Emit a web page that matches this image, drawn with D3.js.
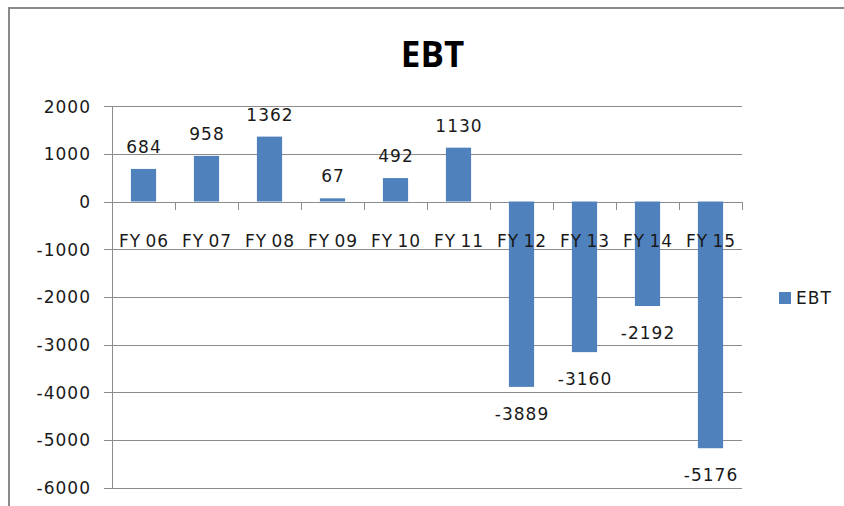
<!DOCTYPE html>
<html>
<head>
<meta charset="utf-8">
<script src="https://cdn.jsdelivr.net/npm/d3@7"></script>
<style>
  html, body { margin: 0; padding: 0; background: #fff; }
  svg { display: block; }
  .lbl { font-family: "DejaVu Sans", sans-serif; font-size: 17px; letter-spacing: 1px; fill: #1a1a1a; }
  .cat { word-spacing: -2px; }
</style>
</head>
<body>
<svg id="chart" width="844" height="506"></svg>
<script>
// EBT by fiscal year
const categories = ["FY 06", "FY 07", "FY 08", "FY 09", "FY 10", "FY 11", "FY 12", "FY 13", "FY 14", "FY 15"];
const ebtValues = [684, 958, 1362, 67, 492, 1130, -3889, -3160, -2192, -5176];
const yTicks = [2000, 1000, 0, -1000, -2000, -3000, -4000, -5000, -6000];
const seriesName = "EBT";
const chartTitle = "EBT";

const svg = d3.select("#chart");
const W = 844, H = 506;
const plot = { left: 112, right: 742, top: 106.2, bottom: 487.5 };
const gridColor = "#8c8c8c";
const barColor = "#4f81bd";

// Chart frame (left and top edges visible)
svg.append("path")
  .attr("d", `M9,${H} L9,8 L${W},8`)
  .attr("fill", "none")
  .attr("stroke", "#8a8a8a")
  .attr("stroke-width", 2);

// Title
svg.append("text")
  .attr("x", 432.5).attr("y", 66.5)
  .attr("text-anchor", "middle")
  .style("font-family", "'Open Sans', sans-serif")
  .style("font-weight", 700)
  .style("font-size", "35px")
  .style("fill", "#000")
  .text(chartTitle);

const x = d3.scaleBand().domain(categories).range([plot.left, plot.right]).padding(0);
const y = d3.scaleLinear().domain([-6000, 2000]).range([plot.bottom, plot.top]);
const step = x.step();
const barW = step * 0.4;

// Horizontal gridlines + y-axis via d3.axisLeft (plain hyphen for negatives)
const yAxis = d3.axisLeft(y).tickValues(yTicks).tickSize(8).tickSizeOuter(0).tickFormat(d => String(d));
const gy = svg.append("g").attr("transform", `translate(${plot.left},0)`).call(yAxis);
gy.select(".domain").attr("stroke", gridColor).attr("stroke-width", 1).attr("shape-rendering", "crispEdges");
gy.selectAll(".tick line").attr("stroke", gridColor).attr("shape-rendering", "crispEdges");
gy.selectAll(".tick text").attr("class", "lbl").attr("x", -21).attr("dy", "0.36em");
gy.selectAll(".tick").append("line")
  .attr("x1", 0).attr("x2", plot.right - plot.left)
  .attr("stroke", gridColor).attr("shape-rendering", "crispEdges");

// Category ticks on the zero line
const bounds = categories.map(c => x(c)).concat([plot.right]);
svg.append("g").selectAll("line").data(bounds).join("line")
  .attr("x1", d => d).attr("x2", d => d)
  .attr("y1", y(0)).attr("y2", y(0) + 8)
  .attr("stroke", gridColor).attr("shape-rendering", "crispEdges");

// Bars
svg.append("g").selectAll("rect").data(ebtValues).join("rect")
  .attr("x", (d, i) => x(categories[i]) + (step - barW) / 2)
  .attr("width", barW)
  .attr("y", d => y(Math.max(0, d)))
  .attr("height", d => Math.abs(y(d) - y(0)))
  .attr("fill", barColor);

// Category labels
svg.append("g").selectAll("text").data(categories).join("text")
  .attr("class", "lbl cat")
  .attr("x", d => x(d) + step / 2 + 0.5)
  .attr("y", 246.5)
  .attr("text-anchor", "middle")
  .text(d => d);

// Data labels
svg.append("g").selectAll("text").data(ebtValues).join("text")
  .attr("class", "lbl")
  .attr("x", (d, i) => x(categories[i]) + step / 2 + 0.5)
  .attr("y", d => d >= 0 ? y(d) - 16 : y(d) + 33)
  .attr("text-anchor", "middle")
  .text(d => String(d));

// Legend
const lg = svg.append("g").attr("transform", "translate(779,292)");
lg.append("rect").attr("width", 12).attr("height", 12).attr("fill", barColor);
lg.append("text").attr("class", "lbl").attr("x", 17).attr("y", 11.5).text(seriesName);
</script>
</body>
</html>
